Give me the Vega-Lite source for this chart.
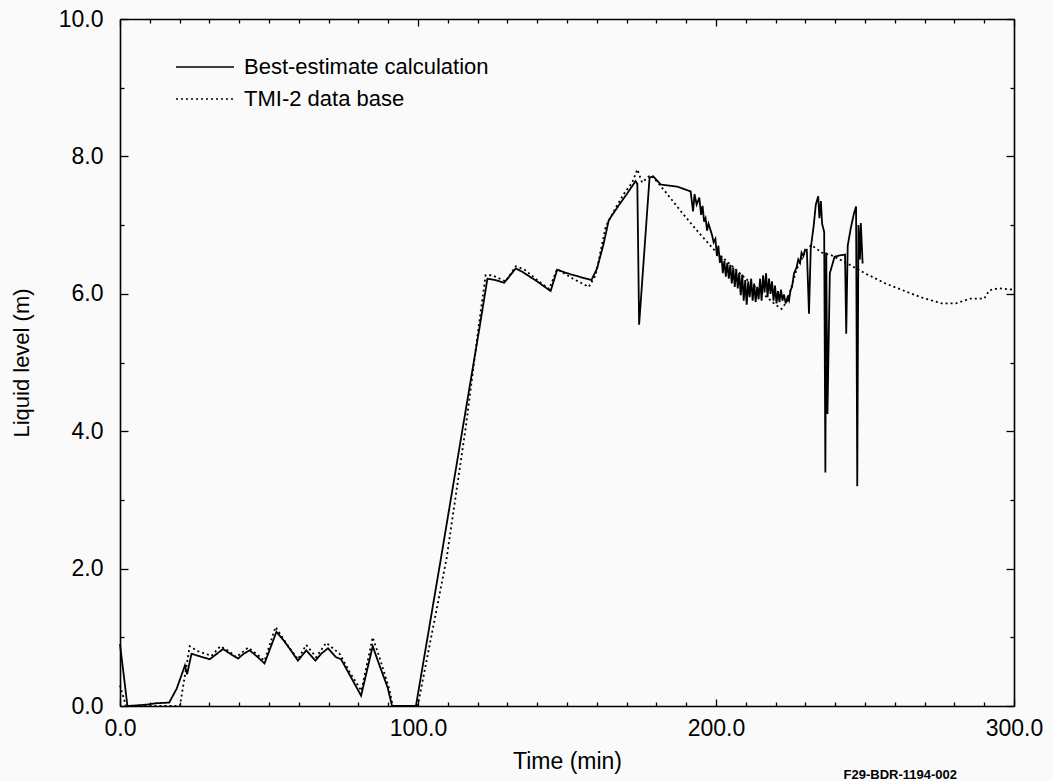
{
  "$schema": "https://vega.github.io/schema/vega-lite/v6.json",
  "width": 894,
  "height": 687,
  "autosize": {"type": "none"},
  "padding": {"left": 120, "top": 19, "right": 39, "bottom": 75},
  "background": "#fafafa",
  "config": {
    "view": {"stroke": null},
    "font": "Liberation Sans",
    "axis": {"domainColor": "black", "tickColor": "black", "labelColor": "black", "titleColor": "black", "grid": false, "domainWidth": 1.6, "tickWidth": 1.3}
  },
  "title": {"text": "F29-BDR-1194-002", "orient": "bottom", "anchor": "end", "frame": "group", "fontSize": 13, "fontWeight": "bold", "color": "black", "dx": -57, "offset": -4},
  "data": {
    "values": [
      {"series": "Best-estimate calculation", "t": 0, "level": 0.9},
      {"series": "Best-estimate calculation", "t": 2.5, "level": 0},
      {"series": "Best-estimate calculation", "t": 9, "level": 0.02},
      {"series": "Best-estimate calculation", "t": 12, "level": 0.04},
      {"series": "Best-estimate calculation", "t": 16.5, "level": 0.05},
      {"series": "Best-estimate calculation", "t": 19, "level": 0.25},
      {"series": "Best-estimate calculation", "t": 21.8, "level": 0.59},
      {"series": "Best-estimate calculation", "t": 22.5, "level": 0.46},
      {"series": "Best-estimate calculation", "t": 24, "level": 0.76},
      {"series": "Best-estimate calculation", "t": 27, "level": 0.72},
      {"series": "Best-estimate calculation", "t": 30.1, "level": 0.68},
      {"series": "Best-estimate calculation", "t": 32.5, "level": 0.76},
      {"series": "Best-estimate calculation", "t": 34.6, "level": 0.83},
      {"series": "Best-estimate calculation", "t": 37, "level": 0.76},
      {"series": "Best-estimate calculation", "t": 39.6, "level": 0.69},
      {"series": "Best-estimate calculation", "t": 41.5, "level": 0.76},
      {"series": "Best-estimate calculation", "t": 43.5, "level": 0.81},
      {"series": "Best-estimate calculation", "t": 46, "level": 0.72},
      {"series": "Best-estimate calculation", "t": 48.5, "level": 0.62},
      {"series": "Best-estimate calculation", "t": 50.5, "level": 0.85},
      {"series": "Best-estimate calculation", "t": 52.5, "level": 1.08},
      {"series": "Best-estimate calculation", "t": 55, "level": 0.95},
      {"series": "Best-estimate calculation", "t": 57.5, "level": 0.8},
      {"series": "Best-estimate calculation", "t": 59.7, "level": 0.66},
      {"series": "Best-estimate calculation", "t": 62.5, "level": 0.81},
      {"series": "Best-estimate calculation", "t": 65.6, "level": 0.66},
      {"series": "Best-estimate calculation", "t": 67.5, "level": 0.76},
      {"series": "Best-estimate calculation", "t": 69.8, "level": 0.84},
      {"series": "Best-estimate calculation", "t": 72.5, "level": 0.71},
      {"series": "Best-estimate calculation", "t": 74.2, "level": 0.68},
      {"series": "Best-estimate calculation", "t": 77.5, "level": 0.42},
      {"series": "Best-estimate calculation", "t": 80.9, "level": 0.15},
      {"series": "Best-estimate calculation", "t": 82.8, "level": 0.5},
      {"series": "Best-estimate calculation", "t": 84.8, "level": 0.87},
      {"series": "Best-estimate calculation", "t": 87, "level": 0.6},
      {"series": "Best-estimate calculation", "t": 89.8, "level": 0.27},
      {"series": "Best-estimate calculation", "t": 91.3, "level": 0},
      {"series": "Best-estimate calculation", "t": 99.3, "level": 0},
      {"series": "Best-estimate calculation", "t": 107.7, "level": 2.15},
      {"series": "Best-estimate calculation", "t": 120.5, "level": 5.47},
      {"series": "Best-estimate calculation", "t": 123.3, "level": 6.22},
      {"series": "Best-estimate calculation", "t": 126, "level": 6.2},
      {"series": "Best-estimate calculation", "t": 128.9, "level": 6.16},
      {"series": "Best-estimate calculation", "t": 130.6, "level": 6.25},
      {"series": "Best-estimate calculation", "t": 132.8, "level": 6.37},
      {"series": "Best-estimate calculation", "t": 135, "level": 6.32},
      {"series": "Best-estimate calculation", "t": 140, "level": 6.18},
      {"series": "Best-estimate calculation", "t": 144.5, "level": 6.04},
      {"series": "Best-estimate calculation", "t": 146.7, "level": 6.35},
      {"series": "Best-estimate calculation", "t": 150, "level": 6.3},
      {"series": "Best-estimate calculation", "t": 154, "level": 6.25},
      {"series": "Best-estimate calculation", "t": 158.2, "level": 6.2},
      {"series": "Best-estimate calculation", "t": 160.1, "level": 6.37},
      {"series": "Best-estimate calculation", "t": 162.3, "level": 6.73},
      {"series": "Best-estimate calculation", "t": 164, "level": 7.07},
      {"series": "Best-estimate calculation", "t": 167.4, "level": 7.29},
      {"series": "Best-estimate calculation", "t": 170.2, "level": 7.46},
      {"series": "Best-estimate calculation", "t": 173, "level": 7.64},
      {"series": "Best-estimate calculation", "t": 173.6, "level": 7.6},
      {"series": "Best-estimate calculation", "t": 174.2, "level": 5.55},
      {"series": "Best-estimate calculation", "t": 177.7, "level": 7.69},
      {"series": "Best-estimate calculation", "t": 178.9, "level": 7.71},
      {"series": "Best-estimate calculation", "t": 181.5, "level": 7.59},
      {"series": "Best-estimate calculation", "t": 187, "level": 7.56},
      {"series": "Best-estimate calculation", "t": 191.5, "level": 7.49},
      {"series": "Best-estimate calculation", "t": 192.3, "level": 7.2},
      {"series": "Best-estimate calculation", "t": 192.8, "level": 7.45},
      {"series": "Best-estimate calculation", "t": 193.5, "level": 7.3},
      {"series": "Best-estimate calculation", "t": 194.4, "level": 7.4},
      {"series": "Best-estimate calculation", "t": 195.0, "level": 7.15},
      {"series": "Best-estimate calculation", "t": 195.5, "level": 7.28},
      {"series": "Best-estimate calculation", "t": 196.0, "level": 7.05},
      {"series": "Best-estimate calculation", "t": 196.5, "level": 7.1},
      {"series": "Best-estimate calculation", "t": 197.0, "level": 6.92},
      {"series": "Best-estimate calculation", "t": 197.5, "level": 7.02},
      {"series": "Best-estimate calculation", "t": 198.0, "level": 6.95},
      {"series": "Best-estimate calculation", "t": 198.7, "level": 6.85},
      {"series": "Best-estimate calculation", "t": 199.2, "level": 6.75},
      {"series": "Best-estimate calculation", "t": 199.8, "level": 6.8},
      {"series": "Best-estimate calculation", "t": 200.3, "level": 6.55},
      {"series": "Best-estimate calculation", "t": 200.8, "level": 6.7},
      {"series": "Best-estimate calculation", "t": 201.3, "level": 6.45},
      {"series": "Best-estimate calculation", "t": 201.8, "level": 6.55},
      {"series": "Best-estimate calculation", "t": 202.3, "level": 6.3},
      {"series": "Best-estimate calculation", "t": 202.8, "level": 6.48},
      {"series": "Best-estimate calculation", "t": 203.3, "level": 6.25},
      {"series": "Best-estimate calculation", "t": 203.8, "level": 6.45},
      {"series": "Best-estimate calculation", "t": 204.3, "level": 6.22},
      {"series": "Best-estimate calculation", "t": 204.8, "level": 6.42},
      {"series": "Best-estimate calculation", "t": 205.3, "level": 6.15},
      {"series": "Best-estimate calculation", "t": 205.8, "level": 6.38},
      {"series": "Best-estimate calculation", "t": 206.3, "level": 6.1},
      {"series": "Best-estimate calculation", "t": 206.8, "level": 6.35},
      {"series": "Best-estimate calculation", "t": 207.3, "level": 6.08},
      {"series": "Best-estimate calculation", "t": 207.8, "level": 6.3},
      {"series": "Best-estimate calculation", "t": 208.3, "level": 5.98},
      {"series": "Best-estimate calculation", "t": 208.8, "level": 6.28},
      {"series": "Best-estimate calculation", "t": 209.3, "level": 5.9},
      {"series": "Best-estimate calculation", "t": 209.8, "level": 6.2},
      {"series": "Best-estimate calculation", "t": 210.3, "level": 5.84},
      {"series": "Best-estimate calculation", "t": 210.8, "level": 6.18},
      {"series": "Best-estimate calculation", "t": 211.3, "level": 5.95},
      {"series": "Best-estimate calculation", "t": 211.8, "level": 6.22},
      {"series": "Best-estimate calculation", "t": 212.3, "level": 5.9},
      {"series": "Best-estimate calculation", "t": 212.8, "level": 6.15},
      {"series": "Best-estimate calculation", "t": 213.3, "level": 5.88},
      {"series": "Best-estimate calculation", "t": 213.8, "level": 6.1},
      {"series": "Best-estimate calculation", "t": 214.3, "level": 5.92},
      {"series": "Best-estimate calculation", "t": 214.8, "level": 6.22},
      {"series": "Best-estimate calculation", "t": 215.3, "level": 5.9},
      {"series": "Best-estimate calculation", "t": 215.8, "level": 6.27},
      {"series": "Best-estimate calculation", "t": 216.3, "level": 6.02},
      {"series": "Best-estimate calculation", "t": 216.8, "level": 6.3},
      {"series": "Best-estimate calculation", "t": 217.3, "level": 5.95},
      {"series": "Best-estimate calculation", "t": 217.8, "level": 6.22},
      {"series": "Best-estimate calculation", "t": 218.3, "level": 6.0},
      {"series": "Best-estimate calculation", "t": 218.8, "level": 6.18},
      {"series": "Best-estimate calculation", "t": 219.3, "level": 5.9},
      {"series": "Best-estimate calculation", "t": 219.8, "level": 6.12},
      {"series": "Best-estimate calculation", "t": 220.3, "level": 5.86},
      {"series": "Best-estimate calculation", "t": 220.8, "level": 6.04},
      {"series": "Best-estimate calculation", "t": 221.3, "level": 5.88},
      {"series": "Best-estimate calculation", "t": 221.8, "level": 6.06},
      {"series": "Best-estimate calculation", "t": 222.3, "level": 5.9},
      {"series": "Best-estimate calculation", "t": 222.8, "level": 5.99},
      {"series": "Best-estimate calculation", "t": 223.4, "level": 5.86},
      {"series": "Best-estimate calculation", "t": 224.0, "level": 5.95},
      {"series": "Best-estimate calculation", "t": 224.5, "level": 5.9},
      {"series": "Best-estimate calculation", "t": 225.0, "level": 6.05},
      {"series": "Best-estimate calculation", "t": 225.5, "level": 6.1},
      {"series": "Best-estimate calculation", "t": 226.2, "level": 6.3},
      {"series": "Best-estimate calculation", "t": 227.0, "level": 6.38},
      {"series": "Best-estimate calculation", "t": 227.6, "level": 6.5},
      {"series": "Best-estimate calculation", "t": 228.2, "level": 6.45},
      {"series": "Best-estimate calculation", "t": 228.7, "level": 6.6},
      {"series": "Best-estimate calculation", "t": 229.3, "level": 6.55},
      {"series": "Best-estimate calculation", "t": 229.9, "level": 6.64},
      {"series": "Best-estimate calculation", "t": 230.5, "level": 6.62},
      {"series": "Best-estimate calculation", "t": 231.2, "level": 5.71},
      {"series": "Best-estimate calculation", "t": 231.8, "level": 6.66},
      {"series": "Best-estimate calculation", "t": 232.8, "level": 7.0},
      {"series": "Best-estimate calculation", "t": 233.5, "level": 7.3},
      {"series": "Best-estimate calculation", "t": 234.3, "level": 7.42},
      {"series": "Best-estimate calculation", "t": 234.7, "level": 7.1},
      {"series": "Best-estimate calculation", "t": 235.2, "level": 7.35},
      {"series": "Best-estimate calculation", "t": 235.6, "level": 7.02},
      {"series": "Best-estimate calculation", "t": 236.3, "level": 6.9},
      {"series": "Best-estimate calculation", "t": 236.7, "level": 3.4},
      {"series": "Best-estimate calculation", "t": 237.0, "level": 6.6},
      {"series": "Best-estimate calculation", "t": 237.4, "level": 4.25},
      {"series": "Best-estimate calculation", "t": 238.2, "level": 6.3},
      {"series": "Best-estimate calculation", "t": 239.8, "level": 6.54},
      {"series": "Best-estimate calculation", "t": 241.5, "level": 6.56},
      {"series": "Best-estimate calculation", "t": 243.3, "level": 6.57},
      {"series": "Best-estimate calculation", "t": 243.7, "level": 5.42},
      {"series": "Best-estimate calculation", "t": 244.2, "level": 6.7},
      {"series": "Best-estimate calculation", "t": 245.2, "level": 6.95},
      {"series": "Best-estimate calculation", "t": 246.3, "level": 7.17},
      {"series": "Best-estimate calculation", "t": 247.0, "level": 7.27},
      {"series": "Best-estimate calculation", "t": 247.4, "level": 3.2},
      {"series": "Best-estimate calculation", "t": 247.8, "level": 7.0},
      {"series": "Best-estimate calculation", "t": 248.3, "level": 6.5},
      {"series": "Best-estimate calculation", "t": 248.6, "level": 7.03},
      {"series": "Best-estimate calculation", "t": 249.2, "level": 6.44},
      {"series": "TMI-2 data base", "t": 0, "level": 0.3},
      {"series": "TMI-2 data base", "t": 2, "level": 0},
      {"series": "TMI-2 data base", "t": 20.1, "level": 0},
      {"series": "TMI-2 data base", "t": 23.4, "level": 0.87},
      {"series": "TMI-2 data base", "t": 26, "level": 0.8},
      {"series": "TMI-2 data base", "t": 30.7, "level": 0.73},
      {"series": "TMI-2 data base", "t": 33.7, "level": 0.87},
      {"series": "TMI-2 data base", "t": 36.5, "level": 0.8},
      {"series": "TMI-2 data base", "t": 39, "level": 0.71},
      {"series": "TMI-2 data base", "t": 43, "level": 0.85},
      {"series": "TMI-2 data base", "t": 46, "level": 0.75},
      {"series": "TMI-2 data base", "t": 48.5, "level": 0.66},
      {"series": "TMI-2 data base", "t": 52.2, "level": 1.15},
      {"series": "TMI-2 data base", "t": 56, "level": 0.9},
      {"series": "TMI-2 data base", "t": 59.7, "level": 0.68},
      {"series": "TMI-2 data base", "t": 62.5, "level": 0.89},
      {"series": "TMI-2 data base", "t": 65.8, "level": 0.71},
      {"series": "TMI-2 data base", "t": 69.2, "level": 0.92},
      {"series": "TMI-2 data base", "t": 73.7, "level": 0.76},
      {"series": "TMI-2 data base", "t": 77, "level": 0.5},
      {"series": "TMI-2 data base", "t": 81, "level": 0.22},
      {"series": "TMI-2 data base", "t": 84.8, "level": 1.0},
      {"series": "TMI-2 data base", "t": 87.5, "level": 0.65},
      {"series": "TMI-2 data base", "t": 90.4, "level": 0.24},
      {"series": "TMI-2 data base", "t": 91.5, "level": 0},
      {"series": "TMI-2 data base", "t": 99.9, "level": 0},
      {"series": "TMI-2 data base", "t": 109.6, "level": 2.15},
      {"series": "TMI-2 data base", "t": 116, "level": 4.05},
      {"series": "TMI-2 data base", "t": 120.5, "level": 5.57},
      {"series": "TMI-2 data base", "t": 122.7, "level": 6.27},
      {"series": "TMI-2 data base", "t": 124.9, "level": 6.27},
      {"series": "TMI-2 data base", "t": 129.4, "level": 6.18},
      {"series": "TMI-2 data base", "t": 132.8, "level": 6.4},
      {"series": "TMI-2 data base", "t": 135.5, "level": 6.36},
      {"series": "TMI-2 data base", "t": 140, "level": 6.2},
      {"series": "TMI-2 data base", "t": 144, "level": 6.07},
      {"series": "TMI-2 data base", "t": 146.7, "level": 6.36},
      {"series": "TMI-2 data base", "t": 152, "level": 6.22},
      {"series": "TMI-2 data base", "t": 157.3, "level": 6.1},
      {"series": "TMI-2 data base", "t": 159.6, "level": 6.27},
      {"series": "TMI-2 data base", "t": 163, "level": 6.98},
      {"series": "TMI-2 data base", "t": 166.3, "level": 7.25},
      {"series": "TMI-2 data base", "t": 169, "level": 7.45},
      {"series": "TMI-2 data base", "t": 171.9, "level": 7.62},
      {"series": "TMI-2 data base", "t": 173.6, "level": 7.81},
      {"series": "TMI-2 data base", "t": 175.2, "level": 7.62},
      {"series": "TMI-2 data base", "t": 177.5, "level": 7.71},
      {"series": "TMI-2 data base", "t": 178.5, "level": 7.72},
      {"series": "TMI-2 data base", "t": 183.3, "level": 7.47},
      {"series": "TMI-2 data base", "t": 188.8, "level": 7.17},
      {"series": "TMI-2 data base", "t": 194.4, "level": 6.88},
      {"series": "TMI-2 data base", "t": 199.8, "level": 6.62},
      {"series": "TMI-2 data base", "t": 205, "level": 6.42},
      {"series": "TMI-2 data base", "t": 210, "level": 6.22},
      {"series": "TMI-2 data base", "t": 215, "level": 6.03},
      {"series": "TMI-2 data base", "t": 220, "level": 5.84},
      {"series": "TMI-2 data base", "t": 222, "level": 5.78},
      {"series": "TMI-2 data base", "t": 224, "level": 5.9},
      {"series": "TMI-2 data base", "t": 227, "level": 6.35},
      {"series": "TMI-2 data base", "t": 230, "level": 6.62},
      {"series": "TMI-2 data base", "t": 232, "level": 6.71},
      {"series": "TMI-2 data base", "t": 235.5, "level": 6.6},
      {"series": "TMI-2 data base", "t": 238.8, "level": 6.56},
      {"series": "TMI-2 data base", "t": 245, "level": 6.42},
      {"series": "TMI-2 data base", "t": 249.9, "level": 6.3},
      {"series": "TMI-2 data base", "t": 256.9, "level": 6.15},
      {"series": "TMI-2 data base", "t": 261, "level": 6.08},
      {"series": "TMI-2 data base", "t": 268.7, "level": 5.95},
      {"series": "TMI-2 data base", "t": 275.8, "level": 5.86},
      {"series": "TMI-2 data base", "t": 280.5, "level": 5.86},
      {"series": "TMI-2 data base", "t": 285.2, "level": 5.93},
      {"series": "TMI-2 data base", "t": 290, "level": 5.93},
      {"series": "TMI-2 data base", "t": 291.7, "level": 6.05},
      {"series": "TMI-2 data base", "t": 294.7, "level": 6.08},
      {"series": "TMI-2 data base", "t": 300, "level": 6.06}
    ]
  },
  "layer": [
    {
      "mark": {"type": "line", "color": "black", "strokeWidth": 1.8},
      "encoding": {
        "x": {"field": "t", "type": "quantitative", "scale": {"domain": [0, 300], "nice": false, "zero": false},
          "axis": {"orient": "bottom", "values": [0, 100, 200, 300], "format": ".1f", "ticks": false, "labelPadding": 11, "labelFontSize": 23, "labelFlush": false, "labelOverlap": false, "title": "Time (min)", "titleFontSize": 23, "titleFontWeight": "normal", "titlePadding": 10}},
        "y": {"field": "level", "type": "quantitative", "scale": {"domain": [0, 10], "nice": false},
          "axis": {"orient": "left", "values": [0, 2, 4, 6, 8, 10], "format": ".1f", "ticks": false, "labelPadding": 17, "labelFontSize": 23, "labelFlush": false, "labelOverlap": false, "title": "Liquid level (m)", "titleFontSize": 22, "titleFontWeight": "normal", "titlePadding": 25}},
        "strokeDash": {"field": "series", "type": "nominal",
          "scale": {"domain": ["Best-estimate calculation", "TMI-2 data base"], "range": [[1, 0], [2, 3]]},
          "legend": {"orient": "none", "legendX": 74, "legendY": 37, "title": null, "padding": 0, "symbolType": "M-29,0H29", "symbolSize": 4, "symbolStrokeWidth": 1.6, "symbolStrokeColor": "black", "symbolFillColor": "transparent", "labelFontSize": 22, "labelColor": "black", "labelOffset": 28, "labelLimit": 500, "rowPadding": 10}}
      }
    },
    {
      "mark": {"type": "line", "opacity": 0},
      "encoding": {
        "detail": {"field": "series"},
        "x": {"field": "t", "type": "quantitative",
          "axis": {"orient": "bottom", "values": [0, 10, 20, 30, 40, 50, 60, 70, 80, 90, 100, 110, 120, 130, 140, 150, 160, 170, 180, 190, 200, 210, 220, 230, 240, 250, 260, 270, 280, 290, 300], "labels": false, "domain": false, "title": null,
            "tickSize": {"condition": {"test": "datum.value % 100 === 0", "value": -7}, "value": -4}}},
        "y": {"field": "level", "type": "quantitative",
          "axis": {"orient": "left", "values": [0, 1, 2, 3, 4, 5, 6, 7, 8, 9, 10], "labels": false, "domain": false, "title": null,
            "tickSize": {"condition": {"test": "datum.value % 2 === 0", "value": -8}, "value": -4}}}
      }
    },
    {
      "mark": {"type": "line", "opacity": 0},
      "encoding": {
        "detail": {"field": "series"},
        "x": {"field": "t", "type": "quantitative",
          "axis": {"orient": "top", "values": [0, 10, 20, 30, 40, 50, 60, 70, 80, 90, 100, 110, 120, 130, 140, 150, 160, 170, 180, 190, 200, 210, 220, 230, 240, 250, 260, 270, 280, 290, 300], "labels": false, "domain": true, "title": null,
            "tickSize": {"condition": {"test": "datum.value % 100 === 0", "value": -7}, "value": -4}}},
        "y": {"field": "level", "type": "quantitative",
          "axis": {"orient": "right", "values": [0, 1, 2, 3, 4, 5, 6, 7, 8, 9, 10], "labels": false, "domain": true, "title": null,
            "tickSize": {"condition": {"test": "datum.value % 2 === 0", "value": -8}, "value": -4}}}
      }
    }
  ],
  "resolve": {"axis": {"x": "independent", "y": "independent"}}
}
